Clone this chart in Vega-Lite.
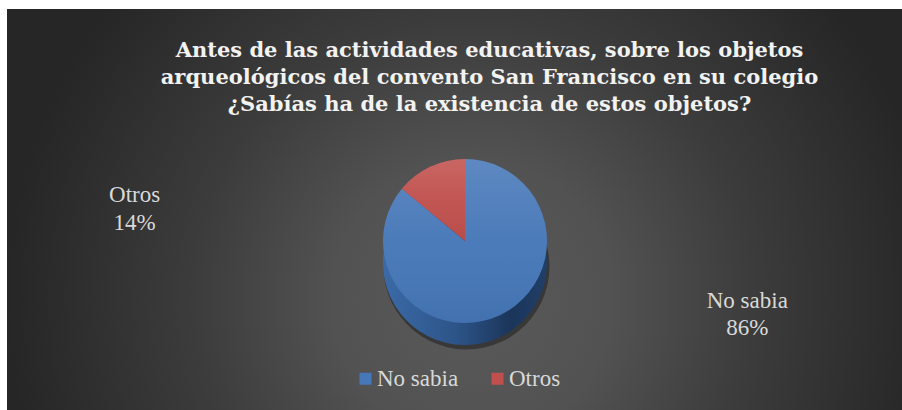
{
  "$schema": "https://vega.github.io/schema/vega-lite/v6.json",
  "width": 902,
  "height": 410,
  "autosize": {"type": "fit", "contains": "padding"},
  "padding": {"left": 7, "top": 9, "right": 0, "bottom": 0},
  "background": "#ffffff",
  "config": {"view": {"stroke": null}},
  "title": {
    "text": [
      "Antes de las actividades educativas, sobre los objetos",
      "arqueológicos del convento San Francisco en su colegio",
      "¿Sabías ha de la existencia de estos objetos?"
    ],
    "font": "DejaVu Serif, Liberation Serif, serif",
    "fontSize": 21,
    "fontWeight": "bold",
    "color": "#f2f2f2",
    "lineHeight": 27,
    "anchor": "middle",
    "offset": -106,
    "dx": 35
  },
  "data": {
    "values": [
      {"categoria": "No sabia", "porcentaje": 0.86},
      {"categoria": "Otros", "porcentaje": 0.14}
    ]
  },
  "layer": [
    {
      "data": {"values": [{}]},
      "mark": {
        "type": "rect",
        "fill": {
          "gradient": "radial",
          "x1": 0.52, "y1": 0.6, "r1": 0,
          "x2": 0.52, "y2": 0.6, "r2": 0.52,
          "stops": [
            {"offset": 0, "color": "#5a5a5a"},
            {"offset": 0.3, "color": "#525252"},
            {"offset": 0.6, "color": "#3c3c3c"},
            {"offset": 1, "color": "#262626"}
          ]
        }
      },
      "encoding": {}
    },
    {
      "mark": {"type": "arc", "outerRadius": 83, "xOffset": 12, "yOffset": 57, "fill": "#0a0a0a", "opacity": 0.4},
      "encoding": {
        "theta": {"field": "porcentaje", "type": "quantitative", "stack": true},
        "order": {"field": "categoria", "sort": "ascending"}
      }
    },
    {
      "mark": {
        "type": "arc", "outerRadius": 82, "xOffset": 10.5, "yOffset": 53.5,
        "fill": {
          "gradient": "linear", "x1": 0, "y1": 0, "x2": 1, "y2": 0,
          "stops": [
            {"offset": 0, "color": "#3b6aa7"},
            {"offset": 0.45, "color": "#2d5488"},
            {"offset": 0.78, "color": "#1b355a"},
            {"offset": 1, "color": "#213f68"}
          ]
        }
      },
      "encoding": {
        "theta": {"field": "porcentaje", "type": "quantitative", "stack": true},
        "order": {"field": "categoria", "sort": "ascending"}
      }
    },
    {
      "mark": {"type": "arc", "outerRadius": 82, "xOffset": 10.5, "yOffset": 31.5},
      "encoding": {
        "theta": {"field": "porcentaje", "type": "quantitative", "stack": true},
        "order": {"field": "categoria", "sort": "ascending"},
        "color": {
          "field": "categoria",
          "type": "nominal",
          "scale": {"domain": ["No sabia", "Otros"], "range": ["#4677b8", "#c0504d"]},
          "legend": {
            "orient": "none",
            "legendX": 347,
            "legendY": 358,
            "direction": "horizontal",
            "title": null,
            "symbolType": "square",
            "symbolSize": 144,
            "symbolStrokeWidth": 0,
            "symbolOpacity": 1,
            "labelFont": "Liberation Serif, Times New Roman, serif",
            "labelFontSize": 23,
            "labelColor": "#d9d9d9",
            "labelOffset": 0,
            "columnPadding": 27,
            "padding": 0
          }
        }
      }
    },
    {
      "mark": {
        "type": "arc", "outerRadius": 82, "xOffset": 10.5, "yOffset": 31.5,
        "fill": {
          "gradient": "linear", "x1": 0, "y1": 0, "x2": 0, "y2": 1,
          "stops": [
            {"offset": 0, "color": "rgba(255,255,255,0.13)"},
            {"offset": 0.5, "color": "rgba(255,255,255,0.03)"},
            {"offset": 1, "color": "rgba(0,0,0,0.05)"}
          ]
        }
      },
      "encoding": {
        "theta": {"field": "porcentaje", "type": "quantitative", "stack": true},
        "order": {"field": "categoria", "sort": "ascending"}
      }
    },
    {
      "mark": {
        "type": "text", "radius": 90, "xOffset": 10.5, "yOffset": 20.5,
        "font": "Liberation Serif, Times New Roman, serif", "fontSize": 23, "fill": "#d9d9d9",
        "align": "center", "baseline": "alphabetic",
        "dx": {"expr": "datum.categoria === 'Otros' ? -292 : 244"},
        "dy": {"expr": "datum.categoria === 'Otros' ? 53 : -3"}
      },
      "encoding": {
        "theta": {"field": "porcentaje", "type": "quantitative", "stack": true},
        "order": {"field": "categoria", "sort": "ascending"},
        "text": {"field": "categoria", "type": "nominal"}
      }
    },
    {
      "mark": {
        "type": "text", "radius": 90, "xOffset": 10.5, "yOffset": 20.5,
        "font": "Liberation Serif, Times New Roman, serif", "fontSize": 23, "fill": "#d9d9d9",
        "align": "center", "baseline": "alphabetic",
        "dx": {"expr": "datum.categoria === 'Otros' ? -292 : 244"},
        "dy": {"expr": "datum.categoria === 'Otros' ? 81 : 24"}
      },
      "encoding": {
        "theta": {"field": "porcentaje", "type": "quantitative", "stack": true},
        "order": {"field": "categoria", "sort": "ascending"},
        "text": {"field": "porcentaje", "type": "quantitative", "format": ".0%"}
      }
    }
  ]
}
